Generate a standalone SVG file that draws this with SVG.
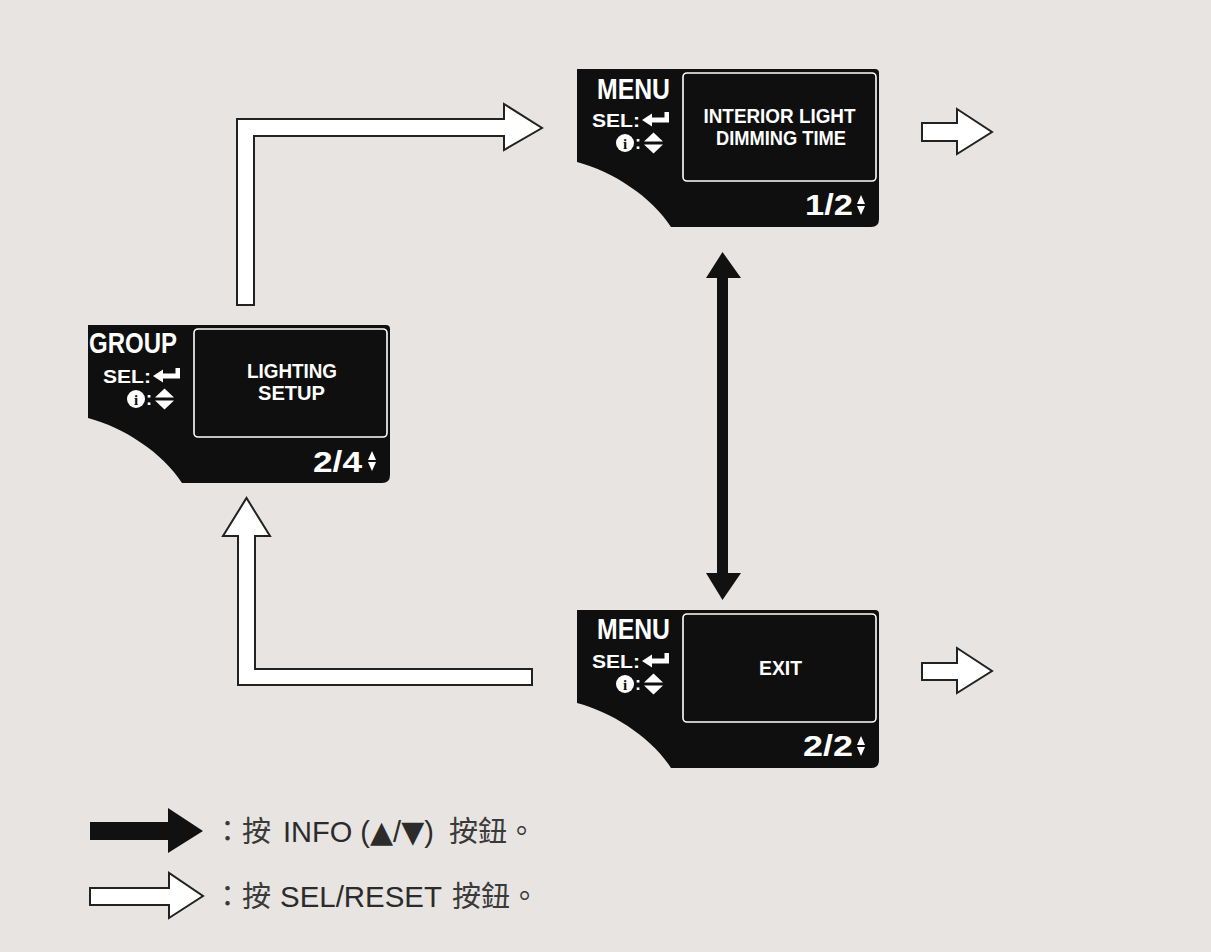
<svg xmlns="http://www.w3.org/2000/svg" width="1211" height="952" viewBox="0 0 1211 952">
  <style>
    .scr { fill: #0f0f0f; }
    .win { fill: #0f0f0f; stroke: #ffffff; stroke-width: 1.6; }
    .st { font-family: "Liberation Sans", Arial, sans-serif; font-weight: bold; fill: #ffffff; }
    .big { font-size: 30px; }
    .sel { font-size: 18px; }
    .mid { font-size: 21px; text-anchor: middle; }
    .ico { fill: #ffffff; }
    .ib { font-family: "Liberation Serif", serif; font-weight: bold; font-size: 15px; fill: #0f0f0f; text-anchor: middle; }
    .warr { fill: #ffffff; stroke: #222222; stroke-width: 2; stroke-linejoin: miter; }
    .barr { fill: #111111; }
    .lg { font-family: "Liberation Sans", "Noto Sans CJK TC", sans-serif; font-size: 29px; fill: #2b2b2b; }
    .lgc { font-family: "Noto Sans CJK TC", sans-serif; font-size: 29px; fill: #3a3a3a; }
    .tri { font-family: "DejaVu Sans", sans-serif; font-size: 30px; }
  </style>
  <defs>
    <g id="tpl">
      <path class="scr" d="M0,0 H298 Q302,0 302,4 V150 Q302,158 294,158 H94 C75,128 35,102 0,93 Z"/>
      <rect class="win" x="106" y="4" width="193" height="108" rx="4"/>
      <path class="ico" d="M65,51 L75,44.5 L75,48.5 L87.5,48.5 L87.5,43 L92,43 L92,53.5 L75,53.5 L75,57.5 Z"/>
      <circle class="ico" cx="48" cy="74" r="9"/>
      <text class="ib" x="48" y="79.5">i</text>
      <text class="st sel" x="58" y="80">:</text>
      <path class="ico" d="M67,72.5 L86,72.5 L76.5,63.5 Z M67,75.5 L86,75.5 L76.5,84.5 Z"/>
      <path class="ico" d="M280,135 L288,135 L284,126 Z M280,137 L288,137 L284,146 Z"/>
    </g>
  </defs>
  <rect x="0" y="0" width="1211" height="952" fill="#e8e4e1"/>

  <g id="connectors">
    <path class="warr" d="M237,305 V119 H504 V104 L542,128 L504,150 V136 H254 V305 Z"/>
    <path class="warr" d="M532,685 H238 V536 H223 L246.5,498 L270,536 H255 V669 H532 Z"/>
    <path class="warr" d="M922,123 H957 V109 L992,132 L957,154 V141 H922 Z"/>
    <path class="warr" d="M922,663 H957 V648 L992,671 L957,693 V680 H922 Z"/>
    <path class="barr" d="M722.5,252 L741,278 H728 V573 H741 L722.5,600 L706,573 H717 V278 H706 Z"/>
  </g>

  <g id="screen-menu-interior" transform="translate(577,69)">
    <use href="#tpl"/>
    <text class="st big" x="20" y="30" textLength="73" lengthAdjust="spacingAndGlyphs">MENU</text>
    <text class="st sel" x="15" y="58" textLength="48" lengthAdjust="spacingAndGlyphs">SEL:</text>
    <text class="st mid" x="202.5" y="54" textLength="152" lengthAdjust="spacingAndGlyphs">INTERIOR LIGHT</text>
    <text class="st mid" x="204" y="76" textLength="130" lengthAdjust="spacingAndGlyphs">DIMMING TIME</text>
    <text class="st big" x="228" y="146" textLength="48" lengthAdjust="spacingAndGlyphs">1/2</text>
  </g>

  <g id="screen-group-lighting" transform="translate(88,325)">
    <use href="#tpl"/>
    <text class="st big" x="1" y="28" textLength="88" lengthAdjust="spacingAndGlyphs">GROUP</text>
    <text class="st sel" x="15" y="58" textLength="48" lengthAdjust="spacingAndGlyphs">SEL:</text>
    <text class="st mid" x="204" y="53" textLength="90" lengthAdjust="spacingAndGlyphs">LIGHTING</text>
    <text class="st mid" x="203.5" y="75" textLength="67" lengthAdjust="spacingAndGlyphs">SETUP</text>
    <text class="st big" x="225" y="147" textLength="49" lengthAdjust="spacingAndGlyphs">2/4</text>
  </g>

  <g id="screen-menu-exit" transform="translate(577,610)">
    <use href="#tpl"/>
    <text class="st big" x="20" y="29" textLength="73" lengthAdjust="spacingAndGlyphs">MENU</text>
    <text class="st sel" x="15" y="58" textLength="48" lengthAdjust="spacingAndGlyphs">SEL:</text>
    <text class="st mid" x="203.5" y="65" textLength="43" lengthAdjust="spacingAndGlyphs">EXIT</text>
    <text class="st big" x="226" y="146" textLength="50" lengthAdjust="spacingAndGlyphs">2/2</text>
  </g>

  <g id="legend">
    <path class="barr" d="M90,822 H168 V808 L203,831 L168,853 V840 H90 Z"/>
    <text class="lgc" x="213" y="842">：按</text>
    <text class="lg" x="283" y="842">INFO (<tspan class="tri">▲</tspan>/<tspan class="tri">▼</tspan>)</text>
    <text class="lgc" x="449" y="842">按鈕。</text>
    <path class="warr" d="M90,888 H169 V873 L203,896 L169,918 V905 H90 Z"/>
    <text class="lgc" x="213" y="907">：按</text>
    <text class="lg" x="280" y="907" textLength="162" lengthAdjust="spacingAndGlyphs">SEL/RESET</text>
    <text class="lgc" x="452" y="907">按鈕。</text>
  </g>
</svg>
